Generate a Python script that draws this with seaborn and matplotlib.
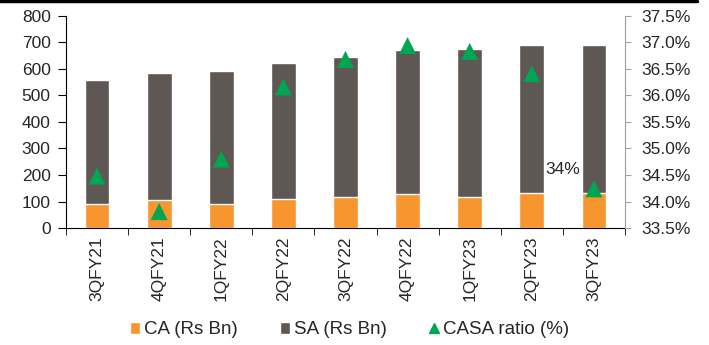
import pandas as pd
import seaborn as sns
import matplotlib.pyplot as plt
from matplotlib.lines import Line2D
from matplotlib.patches import Patch
from matplotlib.ticker import FuncFormatter

quarters = ['3QFY21', '4QFY21', '1QFY22', '2QFY22', '3QFY22', '4QFY22', '1QFY23', '2QFY23', '3QFY23']
ca = [92, 107, 90, 109, 116, 128, 116, 132, 132]
sa = [466, 478, 501, 515, 528, 545, 559, 558, 558]
casa_ratio = [34.48, 33.81, 34.80, 36.16, 36.68, 36.94, 36.83, 36.41, 34.24]

ca_col = '#F7952F'
sa_col = '#5E5753'
casa_col = '#00A651'

sns.set_style('white')
plt.rcParams['font.family'] = ['Liberation Sans', 'DejaVu Sans']

df = pd.DataFrame({'quarter': quarters, 'CA': ca, 'SA': sa, 'CASA': casa_ratio})
df['total'] = df['CA'] + df['SA']

fig, ax = plt.subplots(figsize=(7.09, 3.45), dpi=100)
fig.subplots_adjust(left=0.093, right=0.8815, top=0.954, bottom=0.339)

# stacked bars: total first (SA colour), CA drawn over it
sns.barplot(data=df, x='quarter', y='total', color=sa_col, width=0.4, saturation=1, ax=ax)
sns.barplot(data=df, x='quarter', y='CA', color=ca_col, width=0.4, saturation=1, ax=ax)

ax.set_ylim(0, 800)
ax.set_xlim(-0.5, len(quarters) - 0.5)
ax.set_yticks(range(0, 801, 100))
ax.set_xlabel('')
ax.set_ylabel('')
ax.set_xticks(range(len(quarters)))
ax.set_xticklabels(quarters, rotation=90, fontsize=12.5)
ax.tick_params(axis='x', length=0, pad=6)
ax.tick_params(axis='y', labelsize=12.5, length=6, color='black', direction='out', left=True, pad=5)
# minor ticks at category boundaries
ax.set_xticks([i - 0.5 for i in range(len(quarters) + 1)], minor=True)
ax.tick_params(axis='x', which='minor', length=5, color='black', direction='out', bottom=True)
for s in ['top', 'right']:
    ax.spines[s].set_visible(False)
ax.spines['left'].set_color('black')
ax.spines['bottom'].set_color('black')

ax2 = ax.twinx()
sns.scatterplot(data=df, x='quarter', y='CASA', marker='^', color=casa_col, s=150,
                edgecolor='none', ax=ax2, zorder=5)
ax2.set_ylim(33.5, 37.5)
ax2.set_yticks([33.5 + 0.5 * i for i in range(9)])
ax2.yaxis.set_major_formatter(FuncFormatter(lambda v, p: f'{v:.1f}%'))
ax2.set_ylabel('')
ax2.tick_params(axis='y', labelsize=12.5, length=4, color='#A0A0A0', direction='out', right=True, pad=8)
for s in ['top', 'left', 'bottom']:
    ax2.spines[s].set_visible(False)
ax2.spines['right'].set_color('#A0A0A0')
ax2.set_xlim(-0.5, len(quarters) - 0.5)

ax2.text(7.22, 34.6, '34%', fontsize=12.5, ha='left', va='center')

handles = [
    Patch(facecolor=ca_col, label='CA (Rs Bn)'),
    Patch(facecolor=sa_col, label='SA (Rs Bn)'),
    Line2D([], [], marker='^', color=casa_col, linestyle='none', markersize=7, label='CASA ratio (%)'),
]
fig.legend(handles=handles, loc='center left', bbox_to_anchor=(0.183, 0.044), ncol=3,
           frameon=False, fontsize=13.5, handlelength=0.55, handleheight=0.6,
           handletextpad=0.2, columnspacing=2.25, borderpad=0, borderaxespad=0)

fig.add_artist(Line2D([0, 0.983], [0.996, 0.996], color='black', lw=2.5, transform=fig.transFigure))

fig.savefig('out.png', dpi=100)
